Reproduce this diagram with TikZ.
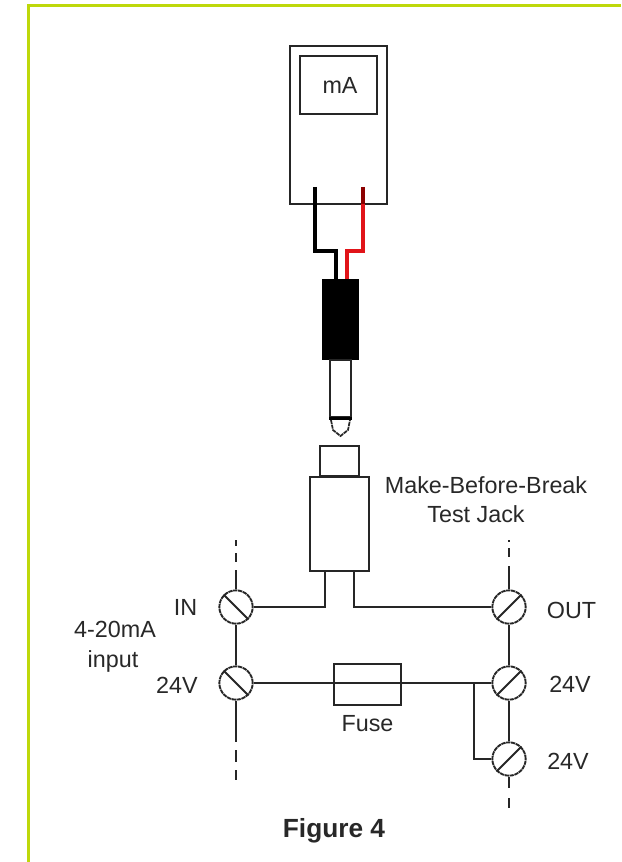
\documentclass[tikz,border=0pt]{standalone}
\usepackage{fontspec}
\setmainfont{Liberation Sans}
\definecolor{lime}{RGB}{190,216,10}
\definecolor{gtxt}{RGB}{40,40,40}
\definecolor{redw}{RGB}{225,20,25}
\tikzset{
  x=0.75pt,y=-0.75pt,
  wire/.style={line width=1.4pt,black!85},
  heavy/.style={line width=2.6pt},
  outline/.style={draw=black!85,line width=1.5pt,inner sep=0pt},
  terminal/.style={circle,draw=black!85,line width=1.4pt,dash pattern=on 3.2pt off 0.5pt,minimum size=25pt,inner sep=0pt,fill=white},
  lbl/.style={font=\fontsize{17.5}{21.7}\selectfont,text=gtxt,inner sep=0pt,align=center,anchor=base},
}
\begin{document}
\begin{tikzpicture}
\useasboundingbox (0,0) rectangle (621,862);
\fill[white] (0,0) rectangle (621,862);
% page border
\draw[lime,line width=2.3pt] (28.5,862) -- (28.5,5.5) -- (621,5.5);
% meter
\node[outline,minimum width=72.75pt,minimum height=118.5pt] (meter) at (338.5,125) {};
\node[outline,minimum width=57.75pt,minimum height=43.5pt] (screen) at (338.5,85) {};
\node[lbl] (mA) at (340,94) {mA};
% plug
\node[draw=black,fill=black,minimum width=27pt,minimum height=60pt,inner sep=0pt] (grip) at (340.5,319) {};
\node[outline,minimum width=15.75pt,minimum height=43pt,anchor=north] (barrel) at (340.5,359) {};
\coordinate (tipL) at (331,420);
\coordinate (tipR) at (350,420);
\draw[black,line width=2.6pt] (barrel.south west) -- (barrel.south east);
\draw[black!85,line width=1.3pt,dash pattern=on 3pt off 0.6pt] (tipL) -- (333,430) -- (340.5,436) -- (348,430) -- (tipR);
% leads
\coordinate (bk0) at (315,187);
\coordinate (rd0) at (363,187);
\draw[heavy,black] (bk0) -- (315,251) -- (336,251) -- (336,279);
\draw[heavy,redw] (363,204) -- (363,251) -- (347,251) -- (347,279);
\draw[heavy,red!55!black] (rd0) -- (363,204);
% jack
\node[outline,minimum width=29.25pt,minimum height=23pt] (jtop) at (339.5,461) {};
\node[outline,minimum width=44.25pt,minimum height=70.5pt] (jack) at (339.5,524) {};
% terminals
\node[terminal] (in) at (236,607) {};
\node[terminal] (vl) at (236,683) {};
\node[terminal] (out) at (509,607) {};
\node[terminal] (vr) at (509,683) {};
\node[terminal] (vb) at (509,759) {};
\foreach \n in {in,vl}{\draw[wire] (\n.north west) -- (\n.south east);}
\foreach \n in {out,vr,vb}{\draw[wire] (\n.south west) -- (\n.north east);}
% fuse
\node[outline,minimum width=50.25pt,minimum height=30.75pt] (fuse) at (367.5,684.5) {};
% wiring
\coordinate (legL) at (325,571);
\coordinate (legR) at (354,571);
\draw[wire] (in.east) -- (325,607) -- (legL);
\draw[wire] (out.west) -- (354,607) -- (legR);
\draw[wire] (vl.east) -- (vr.west);
\coordinate (br) at (474,683);
\draw[wire] (br) |- (vb.west);
\draw[wire] (in.south) -- (vl.north);
\draw[wire] (out.south) -- (vr.north);
\draw[wire] (vr.south) -- (vb.north);
% stubs
\coordinate (a1) at (236,570);
\coordinate (a2) at (236,742);
\coordinate (b1) at (509,566);
\coordinate (b2) at (509,788);
\draw[wire] (a1) -- (in.north);
\draw[wire] (vl.south) -- (a2);
\draw[wire] (b1) -- (out.north);
\draw[wire] (vb.south) -- (b2);
\draw[wire] (236,540) -- (236,546) (236,553) -- (236,562) (236,750) -- (236,762) (236,770) -- (236,780);
\draw[wire] (509,540) -- (509,542) (509,548) -- (509,557) (509,798) -- (509,808);
% labels
\node[lbl] (l1) at (486,522) {Make-Before-Break\\Test Jack\hspace*{15pt}};
\node[lbl] (l2) at (185.5,615) {IN};
\node[lbl] (l3) at (115,637) {4-20mA};
\node[lbl] (l3b) at (113,667) {input};
\node[lbl] (l4) at (177,693) {24V};
\node[lbl] (l5) at (571.5,618) {OUT};
\node[lbl] (l6) at (570,692) {24V};
\node[lbl] (l7) at (568,769) {24V};
\node[lbl] (l8) at (367.5,731) {Fuse};
\node[font=\bfseries\fontsize{19.7}{24}\selectfont,text=gtxt,inner sep=0pt,anchor=base] (l9) at (334,837) {Figure 4};
\end{tikzpicture}
\end{document}
